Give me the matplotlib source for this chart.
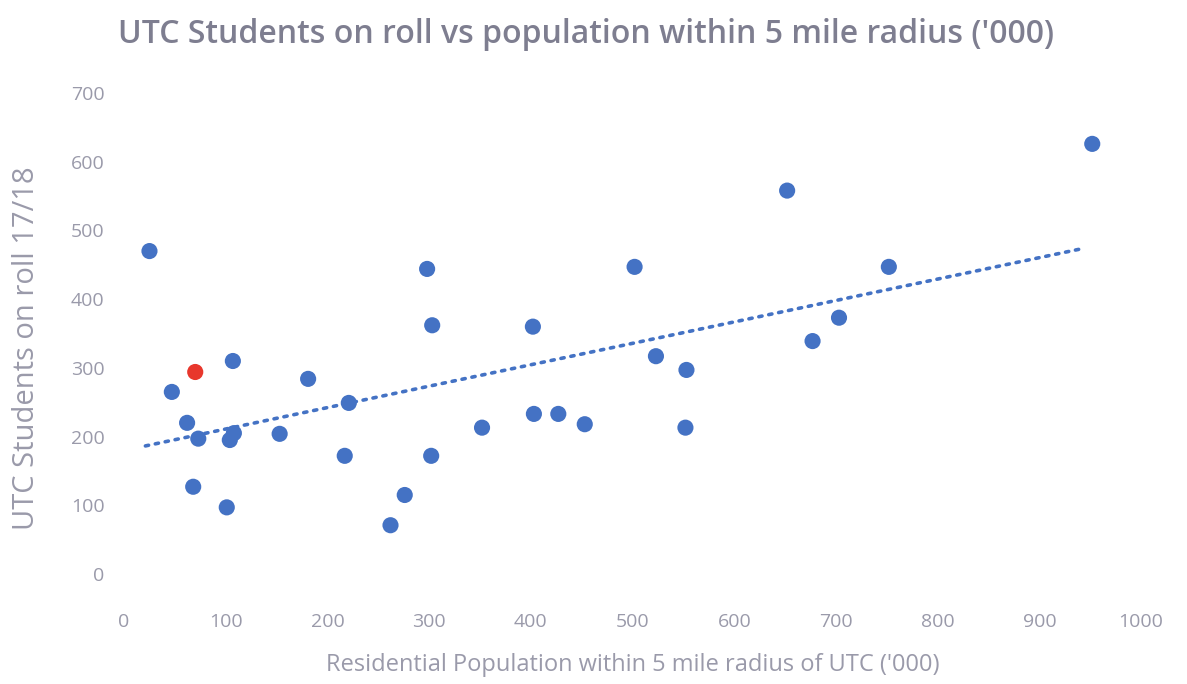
import numpy as np
import matplotlib
matplotlib.use('Agg')
from matplotlib import pyplot as plt

# population within 5 miles ('000) and students on roll 17/18
population = [25, 47, 62, 73, 68, 101, 104, 108, 107, 153, 181, 221, 217,
              262, 276, 298, 303, 302, 352, 402, 403, 427, 453, 502, 523,
              553, 552, 652, 677, 703, 752, 952]
students = [470, 265, 220, 197, 127, 97, 195, 205, 310, 204, 284, 249, 172,
            71, 115, 444, 362, 172, 213, 360, 233, 233, 218, 447, 317,
            297, 213, 558, 339, 373, 447, 626]
# highlighted UTC
red_pop = [70]
red_students = [294]

x_ticks = list(range(0, 1001, 100))
y_ticks = list(range(0, 701, 100))

blue = '#4472C4'
red = '#E8372C'
grey = '#9A9AAA'

plt.rcParams['font.family'] = ['Open Sans', 'DejaVu Sans']

fig = plt.figure(figsize=(11.87, 6.84), dpi=100)
ax = fig.add_axes([0.1045, 0.1608, 0.8568, 0.7032])

ax.scatter(population, students, s=135, color=blue, edgecolors='none', zorder=3)
ax.scatter(red_pop, red_students, s=135, color=red, edgecolors='none', zorder=3)

# linear trendline over all points
all_x = np.array(population + red_pop)
all_y = np.array(students + red_students)
slope, intercept = np.polyfit(all_x, all_y, 1)
tx = np.array([all_x.min() - 4, all_x.max() - 8])
ax.plot(tx, slope * tx + intercept, color=blue, lw=2.6,
        linestyle=(0, (0.9, 1.9)), dash_capstyle='round', zorder=2)

ax.set_xlim(0, 1000)
ax.set_ylim(0, 700)
ax.set_xticks(x_ticks)
ax.set_yticks(y_ticks)
ax.tick_params(length=0, labelsize=14, labelcolor=grey, pad=14)
ax.tick_params(axis='x', pad=28)
for s in ax.spines.values():
    s.set_visible(False)

ax.set_xlabel("Residential Population within 5 mile radius of UTC ('000)",
              fontsize=17, color=grey, labelpad=16)
ax.set_ylabel('UTC Students on roll 17/18', fontsize=21, color=grey)
ax.yaxis.set_label_coords(-0.082, 0.47)
fig.text(0.494, 0.95, "UTC Students on roll vs population within 5 mile radius ('000)",
         ha='center', va='center', fontsize=23, color='#7E7E90', fontweight='semibold')

fig.savefig('out.png', dpi=100, facecolor='white')
